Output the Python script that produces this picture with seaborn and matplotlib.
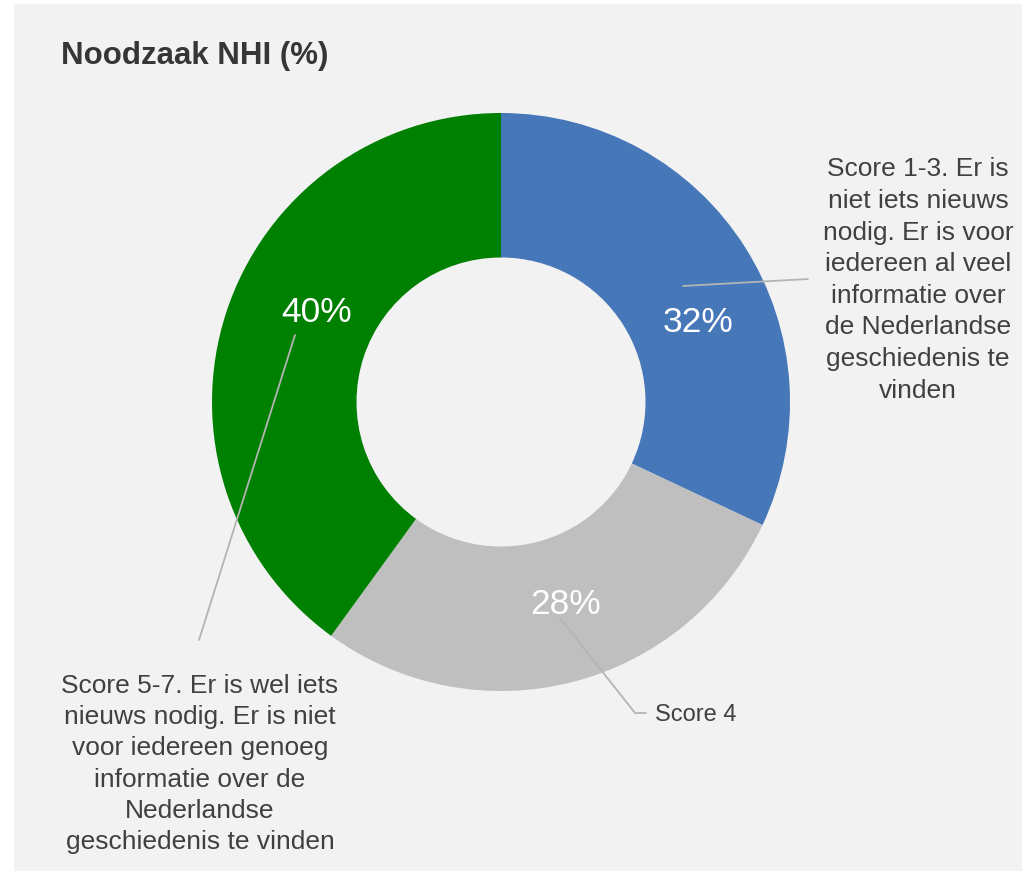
import seaborn as sns
import matplotlib.pyplot as plt
from matplotlib.patches import Rectangle

# Data
categories = ['Score 1-3. Er is\nniet iets nieuws\nnodig. Er is voor\niedereen al veel\ninformatie over\nde Nederlandse\ngeschiedenis te\nvinden',
              'Score 4',
              'Score 5-7. Er is wel iets\nnieuws nodig. Er is niet\nvoor iedereen genoeg\ninformatie over de\nNederlandse\ngeschiedenis te vinden']
values = [32, 28, 40]
pct_labels = ['32%', '28%', '40%']
title = 'Noodzaak NHI (%)'

sns.set_theme(style='white')
plt.rcParams['font.family'] = ['Liberation Sans', 'DejaVu Sans']

palette = sns.color_palette(['#4677B8', '#BFBFBF', '#008000'])
text_color = '#404040'
line_color = '#B4B4B4'
bg_color = '#F2F2F2'

W, H = 1022, 871
fig = plt.figure(figsize=(W / 100, H / 100), dpi=100)
fig.patch.set_facecolor('white')
fig.add_artist(Rectangle((14 / W, 0), 1 - 14 / W, 1 - 4 / H, transform=fig.transFigure,
                         facecolor=bg_color, edgecolor='none', zorder=-10))

# donut centre (501, 402) px, outer radius 289 px
cx, cy, r = 501, 402, 289
ax = fig.add_axes([(cx - r) / W, (H - cy - r) / H, 2 * r / W, 2 * r / H])
ax.set_facecolor('none')

wedges, _ = ax.pie(values, colors=palette, startangle=90, counterclock=False,
                   radius=1, wedgeprops=dict(width=0.5, edgecolor='none'))
ax.set_xlim(-1, 1)
ax.set_ylim(-1, 1)
ax.set_aspect('equal')
ax.axis('off')


def px(x, y):
    return ((x - cx) / r, (cy - y) / r)


# percentage labels inside the ring
pct_pos = [px(698, 322), px(566, 604), px(317, 312)]
for lab, pos in zip(pct_labels, pct_pos):
    ax.text(*pos, lab, ha='center', va='center', color='white', fontsize=25.5)

# leader lines
leaders = [
    [px(683, 286), px(808, 279)],
    [px(560, 618), px(635, 713), px(646, 713)],
    [px(295, 335), px(199, 640)],
]
for pts in leaders:
    xs, ys = zip(*pts)
    ax.plot(xs, ys, color=line_color, lw=1.3, clip_on=False, zorder=5)

# category labels
ax.text(*px(918, 280), categories[0], ha='center', va='center', color=text_color,
        fontsize=19, linespacing=1.4, clip_on=False)
ax.text(*px(655, 715), categories[1], ha='left', va='center', color=text_color,
        fontsize=17, clip_on=False)
ax.text(*px(200, 764), categories[2], ha='center', va='center', color=text_color,
        fontsize=19, linespacing=1.38, clip_on=False)

fig.text(61 / W, 1 - 56 / H, title, ha='left', va='center', fontsize=22.5,
         fontweight='bold', color='#363636')

fig.savefig('out.png', dpi=100, facecolor=fig.get_facecolor())
